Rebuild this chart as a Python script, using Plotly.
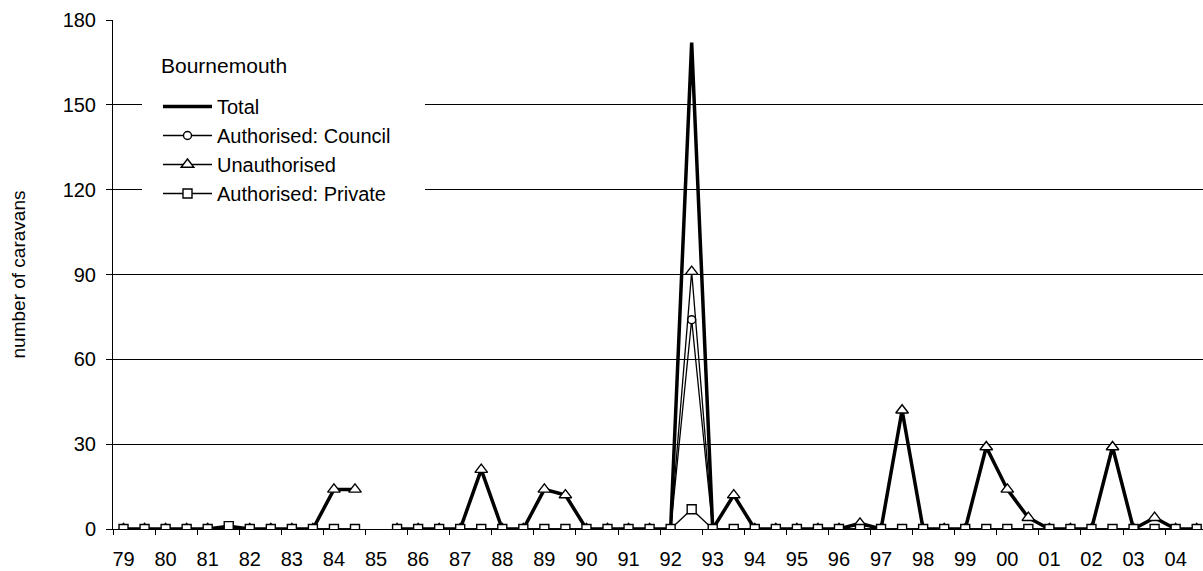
import plotly.graph_objects as go

year_labels = ["79", "80", "81", "82", "83", "84", "85", "86", "87", "88", "89", "90", "91",
               "92", "93", "94", "95", "96", "97", "98", "99", "00", "01", "02", "03", "04"]

# half-yearly counts (January, July) from Jan 1979 to Jul 2004; None = no count
total = [0, 0, 0, 0, 0, 1, 0, 0, 0, 0, 14, 14, None, 0, 0, 0, 0, 21, 0, 0, 14, 12, 0, 0, 0, 0,
         0, 172, 0, 12, 0, 0, 0, 0, 0, 2, 0, 42, 0, 0, 0, 29, 14, 4, 0, 0, 0, 29, 0, 4, 0, 0]
council = [0, 0, 0, 0, 0, 0, 0, 0, 0, 0, 0, 0, None, 0, 0, 0, 0, 0, 0, 0, 0, 0, 0, 0, 0, 0,
           0, 74, 0, 0, 0, 0, 0, 0, 0, 0, 0, 0, 0, 0, 0, 0, 0, 0, 0, 0, 0, 0, 0, 0, 0, 0]
unauthorised = [0, 0, 0, 0, 0, 0, 0, 0, 0, 0, 14, 14, None, 0, 0, 0, 0, 21, 0, 0, 14, 12, 0, 0, 0, 0,
                0, 91, 0, 12, 0, 0, 0, 0, 0, 2, 0, 42, 0, 0, 0, 29, 14, 4, 0, 0, 0, 29, 0, 4, 0, 0]
private = [0, 0, 0, 0, 0, 1, 0, 0, 0, 0, 0, 0, None, 0, 0, 0, 0, 0, 0, 0, 0, 0, 0, 0, 0, 0,
           0, 7, 0, 0, 0, 0, 0, 0, 0, 0, 0, 0, 0, 0, 0, 0, 0, 0, 0, 0, 0, 0, 0, 0, 0, 0]

x = list(range(len(total)))
label_pos = [2 * i for i in range(len(year_labels))]

FONT = "Liberation Sans, Arial, sans-serif"
marker_common = dict(color="white", line=dict(color="black", width=1.4))

fig = go.Figure()
fig.add_trace(go.Scatter(x=x, y=total, name="Total", mode="lines",
                         line=dict(color="black", width=3.5)))
fig.add_trace(go.Scatter(x=x, y=council, name="Authorised: Council", mode="lines+markers",
                         line=dict(color="black", width=1.3),
                         marker=dict(symbol="circle", size=8, **marker_common)))
fig.add_trace(go.Scatter(x=x, y=unauthorised, name="Unauthorised", mode="lines+markers",
                         line=dict(color="black", width=1.3),
                         marker=dict(symbol="triangle-up", size=11, **marker_common)))
fig.add_trace(go.Scatter(x=x, y=private, name="Authorised: Private", mode="lines+markers",
                         line=dict(color="black", width=1.3),
                         marker=dict(symbol="square", size=9, **marker_common)))

L, R, T, B = 113, 0, 20, 42
W, H = 1203, 571
pw, ph = W - L - R, H - T - B

def px_x(p):
    return (p - L) / pw

def px_y(p):
    return (H - B - p) / ph

fig.add_shape(type="rect", xref="paper", yref="paper",
              x0=px_x(142), x1=px_x(425), y0=px_y(232), y1=px_y(40),
              fillcolor="white", line=dict(width=0), layer="above")

fig.add_annotation(text="Bournemouth", xref="paper", yref="paper",
                   x=px_x(159), y=px_y(65), xanchor="left", yanchor="middle",
                   showarrow=False, font=dict(size=21))

fig.update_layout(
    width=W, height=H,
    margin=dict(l=L, r=R, t=T, b=B),
    paper_bgcolor="white", plot_bgcolor="white",
    font=dict(family=FONT, size=19, color="black"),
    showlegend=True,
    legend=dict(x=px_x(158), y=px_y(87), xanchor="left", yanchor="top",
                bgcolor="rgba(0,0,0,0)", borderwidth=0,
                font=dict(size=20), itemwidth=49, tracegroupgap=0),
    xaxis=dict(range=[-0.5, 51.3], tickmode="array", tickvals=label_pos, ticktext=year_labels,
               ticks="", showgrid=False, zeroline=False, showline=True, linecolor="black",
               linewidth=1, tickfont=dict(size=20), ticklabelstandoff=12,
               minor=dict(tick0=-0.5, dtick=2, ticks="outside", ticklen=5,
                          tickcolor="black", tickwidth=1, showgrid=False)),
    yaxis=dict(range=[0, 180], tickmode="array", tickvals=[0, 30, 60, 90, 120, 150, 180],
               ticks="outside", ticklen=6, tickcolor="black", showgrid=True,
               gridcolor="black", gridwidth=1, zeroline=False, showline=True,
               linecolor="black", linewidth=1, tickfont=dict(size=20), ticklabelstandoff=6,
               title=dict(text="number of caravans", font=dict(size=19), standoff=31)),
)

fig.write_html("out.html", config={"displayModeBar": False},
               post_script="document.body.style.margin='0';")
